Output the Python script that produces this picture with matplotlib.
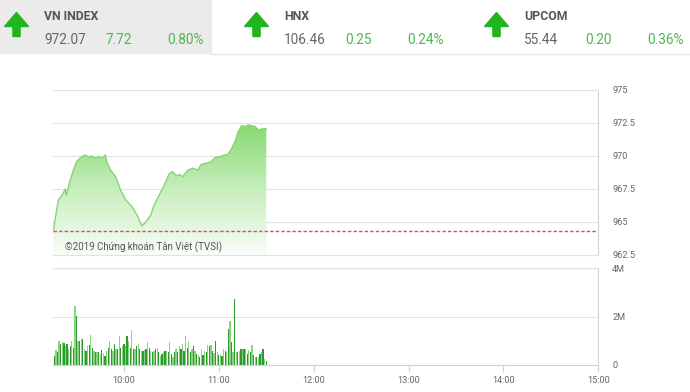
import matplotlib
matplotlib.use('Agg')
import matplotlib.pyplot as plt
import numpy as np
from matplotlib import font_manager
from matplotlib.patches import Rectangle, Polygon
from matplotlib.colors import LinearSegmentedColormap

W, H = 690, 392

# header data
idx_names = ['VN INDEX', 'HNX', 'UPCOM']
idx_values = ['972.07', '106.46', '55.44']
idx_changes = ['7.72', '0.25', '0.20']
idx_pcts = ['0.80%', '0.24%', '0.36%']

# price line (minutes after 9:15, index value)
price_t = [0.4, 1.4, 3.5, 5.2, 6.7, 7.8, 8.6, 11, 13.1, 15, 18.2, 20.5, 22.7, 24.8,
           26.9, 29, 31, 33.3, 34.1, 36.5, 39.7, 42.9, 46.1, 50.1, 53.3, 56.3, 58.8,
           62, 64.1, 67.3, 70.5, 73.7, 75.8, 78, 80.1, 82.2, 85.4, 88.6, 91.8, 93.9,
           97.1, 100.3, 102.4, 105.6, 108.8, 110.9, 113.1, 115.2, 117.3, 119.5, 121.6,
           123.7, 125.8, 128, 130.1, 132.2, 135]
price_v = [964.39, 965.15, 966.67, 966.92, 967.2, 967.5, 967.05, 968.18, 968.94, 969.57,
           969.95, 970.08, 969.92, 970.0, 969.83, 969.95, 969.83, 970.08, 969.57, 968.94,
           968.43, 967.42, 966.67, 966.16, 965.53, 964.70, 965.0, 965.53, 966.29, 967.05,
           967.8, 968.69, 968.81, 968.51, 968.61, 968.43, 968.94, 969.07, 968.94, 969.37,
           969.45, 969.57, 969.87, 969.95, 970.08, 970.13, 970.58, 971.08, 971.84, 972.30,
           972.22, 972.35, 972.30, 972.22, 971.97, 972.05, 972.07]
ref_price = 964.35

# volume per minute (millions)
vol = [0.38, 0.63, 0.52, 0.99, 0.86, 0.93, 0.90, 0.79, 0.86, 0.65, 0.80, 0.99, 0.72, 2.45,
       2.01, 0.99, 0.99, 1.06, 1.09, 0.65, 0.59, 0.79, 0.82, 1.22, 0.72, 0.59, 0.54, 0.52,
       0.54, 0.45, 0.61, 0.50, 0.38, 0.59, 0.72, 0.99, 0.65, 0.59, 0.86, 0.65, 0.65, 1.20,
       0.72, 0.79, 0.86, 0.79, 1.20, 0.99, 0.72, 1.44, 0.65, 0.65, 0.79, 0.86, 0.65, 0.59,
       0.59, 0.62, 0.65, 0.93, 0.72, 0.59, 0.52, 0.59, 0.65, 0.72, 0.54, 0.38, 0.45, 0.52,
       0.59, 0.59, 0.52, 0.93, 0.45, 0.31, 0.52, 0.65, 0.54, 0.79, 0.65, 0.85, 0.59, 1.20,
       0.72, 0.93, 0.52, 0.65, 0.79, 0.59, 0.45, 0.41, 0.35, 0.65, 0.41, 0.59, 0.52, 0.82,
       0.79, 0.82, 0.59, 0.48, 0.99, 0.52, 0.41, 0.45, 0.38, 0.65, 0.59, 0.52, 1.47, 1.81,
       0.93, 0.52, 2.72, 0.54, 0.52, 0.59, 0.65, 0.68, 0.65, 0.68, 0.45, 0.60, 0.52, 0.82,
       0.41, 0.35, 0.35, 0.31, 0.45, 0.52, 0.65, 0.24, 0.18]

xtick_pos = [45, 105, 165, 225, 285, 345]
xtick_lab = ['10:00', '11:00', '12:00', '13:00', '14:00', '15:00']
ptick_pos = [962.5, 965, 967.5, 970, 972.5, 975]
ptick_lab = ['962.5', '965', '967.5', '970', '972.5', '975']

installed = {f.name for f in font_manager.fontManager.ttflist}
narrow = 'Liberation Sans Narrow' if 'Liberation Sans Narrow' in installed else 'Roboto'
plt.rcParams['font.family'] = ['Roboto', 'DejaVu Sans']

fig = plt.figure(figsize=(W / 100, H / 100), dpi=100)


def fx(x):
    return x / W


def fy(y):
    return 1 - y / H


# header
fig.add_artist(Rectangle((0, fy(52.5)), fx(211), 52.5 / H, transform=fig.transFigure,
                         color='#ebebeb', zorder=0))
fig.add_artist(plt.Line2D([fx(211), 1], [fy(53.5), fy(53.5)], transform=fig.transFigure,
                          color='#e6e6e6', lw=1))
green = '#4cb94c'
for i in range(3):
    x0 = 240 * i
    cx = x0 + 16.5
    pts = [(cx, 12.5), (cx + 12, 26.5), (cx + 3.6, 26.5), (cx + 3.6, 36.5),
           (cx - 3.6, 36.5), (cx - 3.6, 26.5), (cx - 12, 26.5)]
    fig.add_artist(Polygon([(fx(a), fy(b)) for a, b in pts], closed=True,
                           transform=fig.transFigure, color='#1fb51f'))
    fig.text(fx(x0 + 44), fy(16), idx_names[i], family=narrow, fontweight='bold',
             fontsize=8.8, color='#555555', va='center', ha='left')
    fig.text(fx(x0 + 44), fy(39.5), idx_values[i], family=narrow, fontsize=9.8,
             color='#666666', va='center', ha='left')
    fig.text(fx(x0 + 105.5), fy(39.5), idx_changes[i], family=narrow, fontsize=9.8,
             color=green, va='center', ha='left')
    fig.text(fx(x0 + 167.5), fy(39.5), idx_pcts[i], family=narrow, fontsize=9.8,
             color=green, va='center', ha='left')

# axes
left, right = 52.8, 598.3
ax = fig.add_axes([fx(left), fy(255), (right - left) / W, (255 - 90) / H])
axv = fig.add_axes([fx(left), fy(365), (right - left) / W, (365 - 268) / H], sharex=ax)

grid_c = '#e2e2e2'
spine_c = '#c9d6de'
lab_c = '#666666'

# price chart
ax.set_xlim(0, 345)
ax.set_ylim(962.5, 975)
cmap = LinearSegmentedColormap.from_list('g', ['#fafdf9', '#c6eebb', '#84d86f'])
grad = np.linspace(0, 1, 256).reshape(-1, 1)
img = ax.imshow(grad, extent=[0, 345, 962.5, 972.6], origin='lower', aspect='auto',
                cmap=cmap, zorder=1)
poly = ax.fill_between(price_t, price_v, 962.5, color='none', lw=0)
clip = poly.get_paths()[0]
img.set_clip_path(clip, transform=ax.transData)
ax.plot(price_t, price_v, color='#86d474', lw=1, zorder=3)
ax.axhline(ref_price, color='#e0504a', lw=1, ls=(0, (2.5, 1.5)), zorder=4)
ax.set_yticks(ptick_pos)
ax.set_yticklabels(ptick_lab)
ax.yaxis.tick_right()
ax.tick_params(axis='y', length=0, pad=10, labelsize=6.6, labelcolor=lab_c)
ax.tick_params(axis='x', bottom=False, labelbottom=False)
ax.grid(axis='y', color=grid_c, lw=0.8, zorder=0)
ax.set_axisbelow(True)
ax.spines['left'].set_visible(False)
ax.spines['top'].set_color(grid_c)
ax.spines['bottom'].set_color(grid_c)
ax.spines['right'].set_color(spine_c)
ax.text(8, 963.1, '©2019 Chứng khoán Tân Việt (TVSI)', fontsize=7, color='#555555',
        ha='left', va='center', zorder=5)

# volume chart
vol_t = np.arange(1, len(vol) + 1)
bar_cols = ['#2c9a2c' if i % 2 == 0 else '#8bd282' for i in range(len(vol))]
axv.bar(vol_t, np.array(vol) * 1e6, width=0.8, color=bar_cols, zorder=2)
axv.set_ylim(0, 4e6)
axv.set_yticks([0, 2e6, 4e6])
axv.set_yticklabels(['0', '2M', '4M'])
axv.yaxis.tick_right()
axv.tick_params(axis='y', length=0, pad=10, labelsize=6.6, labelcolor=lab_c)
axv.set_xticks(xtick_pos)
axv.set_xticklabels(xtick_lab)
axv.tick_params(axis='x', length=5, width=0.8, color=spine_c, pad=3, labelsize=6.6,
                labelcolor=lab_c)
axv.grid(axis='y', color=grid_c, lw=0.8, zorder=0)
axv.set_axisbelow(True)
axv.spines['left'].set_visible(False)
axv.spines['top'].set_color(grid_c)
axv.spines['bottom'].set_color(spine_c)
axv.spines['right'].set_color(spine_c)

fig.savefig('out.png', dpi=100)
